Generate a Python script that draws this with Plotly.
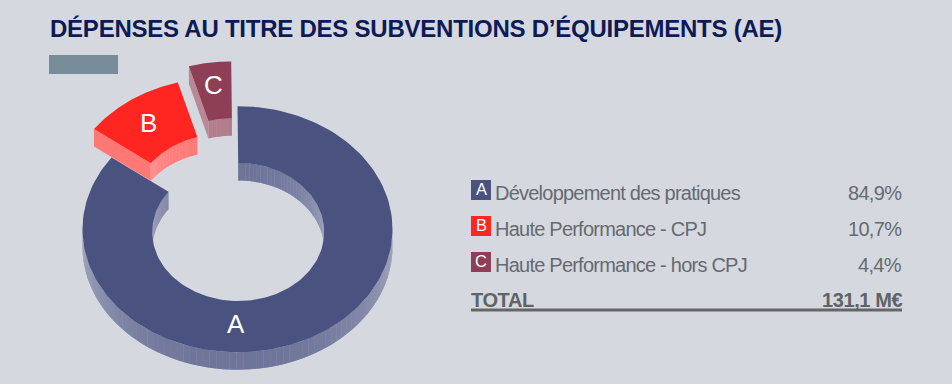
import numpy as np
import plotly.graph_objects as go

# ---- data ----
letters = ["A", "B", "C"]
categories = ["Développement des pratiques", "Haute Performance - CPJ", "Haute Performance - hors CPJ"]
shares = [84.9, 10.7, 4.4]
share_labels = ["84,9%", "10,7%", "4,4%"]
total_label = "TOTAL"
total_value = "131,1 M€"
title = "DÉPENSES AU TITRE DES SUBVENTIONS D’ÉQUIPEMENTS (AE)"

# ---- styling ----
BG = "#d5d9df"
top_colors = [(74, 82, 128), (255, 38, 34), (142, 63, 85)]
explode = [(0, 0), (-17.5, -28.5), (-6.3, -44.7)]
label_angle = [180, None, None]
label_nudge = [(-2, -1), (-2, 0), (-1, -5)]
CX, CY, RX, RY = 237.5, 229.2, 155, 123
ICX, ICY, IRX, IRY = 238.2, 232, 86, 69
DEPTH = 17.5


def outer(a, dx=0, dy=0):
    r = np.radians(a)
    return CX + RX * np.sin(r) + dx, CY - RY * np.cos(r) + dy


def inner(a, dx=0, dy=0):
    r = np.radians(a)
    return ICX + IRX * np.sin(r) + dx, ICY - IRY * np.cos(r) + dy


def mix(c, t):
    return "rgb(%d,%d,%d)" % tuple(round(v + (255 - v) * t) for v in c)


fig = go.Figure()


def poly(xs, ys, color):
    fig.add_trace(go.Scatter(
        x=list(xs), y=list(ys), mode="lines", fill="toself", fillcolor=color,
        line=dict(width=0, color=color), hoverinfo="skip", showlegend=False))


def shade(a, surface):
    # light falls off towards the silhouette edges of the extruded walls
    base = 180 if surface == "outer" else 0
    d = abs(((a - base + 180) % 360) - 180)
    return 0.2 + 0.32 * (d / 90) ** 2


bounds = np.concatenate([[0], np.cumsum(shares)]) / sum(shares) * 360
order = [0, 2, 1]
for i in order:
    a0, a1 = bounds[i], bounds[i + 1]
    dx, dy = explode[i]
    col = top_colors[i]
    boost = {0: 0.0, 1: 0.17, 2: 0.12}[i]
    # cut faces
    for a in (a0, a1):
        ox, oy = outer(a, dx, dy)
        ix, iy = inner(a, dx, dy)
        poly([ox, ix, ix, ox, ox], [oy, iy, iy + DEPTH, oy + DEPTH, oy], mix(col, 0.38))
    # walls: a pale underlay, then one strip per step on top of it
    edges = np.linspace(a0, a1, max(3, int((a1 - a0) / 2.5)) + 1)
    under_x, under_y, strips = [], [], []
    for e0, e1 in zip(edges[:-1], edges[1:]):
        m = (e0 + e1) / 2
        r = np.cos(np.radians(m))
        walls = []
        if r < 0.05:
            walls.append((outer, "outer"))
        if r > -0.05:
            walls.append((inner, "inner"))
        for fn, kind in walls:
            x0, y0 = fn(e0, dx, dy)
            x1, y1 = fn(e1, dx, dy)
            xs = [x0, x1, x1, x0, x0]
            ys = [y0, y1, y1 + DEPTH, y0 + DEPTH, y0]
            under_x += xs + [None]
            under_y += ys + [None]
            strips.append((xs, ys, mix(col, shade(m, kind) + boost)))
    poly(under_x, under_y, mix(col, 0.42 + boost))
    for xs, ys, c in strips:
        poly(xs, ys, c)
    # top face
    arc = np.linspace(a0, a1, 160)
    ox, oy = outer(arc, dx, dy)
    ix, iy = inner(arc[::-1], dx, dy)
    xs = np.concatenate([ox, ix, ox[:1]])
    ys = np.concatenate([oy, iy, oy[:1]])
    poly(xs, ys, mix(col, 0))

anns = []
FONT = "Liberation Sans"


def text(x, y, s, size, color, anchor="left", bold=False, spacing=0):
    if spacing:
        s = f'<span style="letter-spacing:{spacing}px">{s}</span>'
    anns.append(dict(x=x, y=y, text=f"<b>{s}</b>" if bold else s, xref="x", yref="y",
                     xanchor=anchor, yanchor="middle", showarrow=False,
                     font=dict(family=FONT, size=size, color=color)))


for i, l in enumerate(letters):
    a = label_angle[i] if label_angle[i] is not None else (bounds[i] + bounds[i + 1]) / 2
    r = np.radians(a)
    lx = CX + 0.775 * RX * np.sin(r) + explode[i][0] + label_nudge[i][0]
    ly = CY - 0.775 * RY * np.cos(r) + explode[i][1] + label_nudge[i][1]
    text(lx, ly, l, 26, "white", "center")

text(48, 28, title, 24, "#0e1a56", bold=True, spacing=-0.24)

shapes = [dict(type="rect", x0=49, x1=118, y0=55, y1=74, fillcolor="#778b99", line_width=0, layer="below")]
rows = [190, 226, 262]
for i, y in enumerate(rows):
    shapes.append(dict(type="rect", x0=471, x1=491, y0=y - 10, y1=y + 10,
                       fillcolor=mix(top_colors[i], 0), line_width=0, layer="below"))
    text(481, y - 1, letters[i], 16.5, "white", "center")
    text(493, y + 3, categories[i], 20, "#666a70", spacing=-0.77)
    text(904, y + 3, share_labels[i], 20, "#666a70", "right", spacing=-0.7)
text(469, 300, total_label, 20, "#5f6266", bold=True, spacing=-0.4)
text(904, 300, total_value, 20, "#5f6266", "right", bold=True, spacing=-0.4)
shapes.append(dict(type="rect", x0=471, x1=902, y0=308.5, y1=311.5, fillcolor="#666666", line_width=0))

fig.update_layout(
    width=952, height=384, margin=dict(l=0, r=0, t=0, b=0),
    paper_bgcolor=BG, plot_bgcolor=BG, showlegend=False, shapes=shapes, annotations=anns,
    xaxis=dict(range=[0, 952], visible=False, fixedrange=True),
    yaxis=dict(range=[384, 0], visible=False, fixedrange=True),
)
fig.write_html("out.html", config=dict(displayModeBar=False),
               post_script="document.body.style.margin='0';document.body.style.overflow='hidden';"
                           "document.body.style.background='%s';" % BG)
